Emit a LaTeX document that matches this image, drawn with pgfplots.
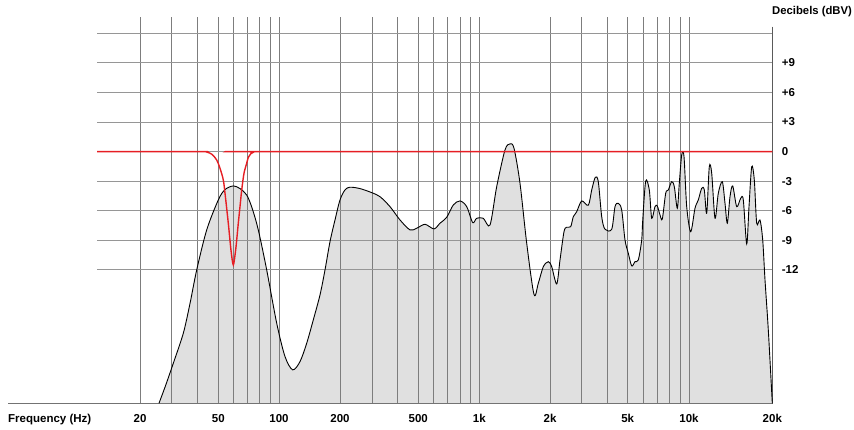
\documentclass[border=0pt]{standalone}
\usepackage{fontspec}
\setmainfont{Liberation Sans}
\usepackage{pgfplots}
\pgfplotsset{compat=1.18}
\usepackage{pgfplotstable}
\definecolor{vgrid}{RGB}{125,125,125}
\definecolor{hgrid}{RGB}{150,150,150}
\definecolor{fillgray}{RGB}{224,224,224}
\definecolor{redline}{RGB}{230,30,36}
\definecolor{axisdark}{RGB}{90,90,90}
\definecolor{axisgray}{RGB}{115,115,115}

% x = position along the (hand-drawn, log-like) frequency axis, y = level in dBV
\pgfplotstableread{
x y
159 -25.52
166 -23.6
173.3 -21.46
183.3 -18.42
190 -15.4
196.7 -12.0
206.7 -7.94
218.3 -4.90
225 -3.85
233.3 -3.48
240 -3.75
246.7 -4.40
252 -5.7
258.3 -7.94
266.7 -12.0
276.7 -17.40
285 -20.78
292.7 -22.13
300 -21.29
306.7 -19.43
313.3 -17.06
320 -14.53
325 -12.0
330 -9.13
335 -6.93
340 -4.90
345 -3.88
350 -3.61
360 -3.75
371.7 -4.16
380 -4.57
390 -5.58
400 -6.93
410 -7.94
416.7 -7.77
425 -7.37
434 -7.84
440 -7.26
446.7 -6.66
453.3 -5.41
460 -5.00
466.7 -5.58
472.7 -7.20
476.7 -6.76
483.3 -6.76
490 -7.44
496.7 -3.55
505 0.17
510 0.78
514 0.34
520 -3.21
526.7 -9.29
534 -14.48
538.3 -13.35
543.3 -11.67
548.3 -11.16
551.7 -11.67
556.7 -13.42
560 -10.99
564 -8.12
566.7 -7.67
570.7 -7.61
573.3 -6.60
576.7 -6.09
581.7 -5.00
588.3 -5.44
591.7 -3.89
595.3 -2.60
598.3 -3.05
601.7 -6.60
605 -7.87
611.7 -7.87
615 -5.58
618.3 -5.24
621.7 -5.92
625 -8.96
628.3 -10.31
631.7 -11.59
635 -11.16
638.3 -10.99
641.7 -8.96
642.7 -7.0
645.7 -2.98
649.3 -3.89
651.7 -6.76
655 -5.58
657.3 -5.51
660 -6.42
662.3 -6.83
665.7 -4.22
668.3 -3.89
671.7 -3.05
674.3 -3.55
677.3 -5.74
679.3 -3.21
681.7 -0.34
684 -0.51
686.7 -5.58
690.7 -8.12
695 -5.74
698.3 -4.90
701.7 -3.72
704.3 -3.89
706.7 -6.25
709.3 -1.53
711.7 -2.20
715 -6.76
718.3 -4.22
722.3 -3.05
725 -5.24
727.3 -7.26
730 -4.57
732.7 -3.48
736.7 -5.58
740.7 -4.73
743.3 -4.90
746.7 -9.36
749 -5.58
751.7 -1.53
754.3 -2.87
756.7 -7.26
760 -6.93
762.7 -8.96
765 -13.01
768.3 -18.08
772.3 -25.52
}\maincurve

\pgfplotstableread{
x y
97 0
200 0
207 -0.05
212 -0.28
216.7 -0.85
220 -1.69
223.3 -2.87
225 -4.22
228.3 -7.26
231 -10.0
233.3 -11.49
235.5 -10.1
236.7 -8.96
238.3 -7.26
240 -5.58
241.7 -3.9
244 -2.20
246.7 -1.18
248.3 -0.6
251 -0.2
254 -0.03
258 0
772.3 0
}\filtercurve

\begin{document}
\begin{tikzpicture}
\begin{axis}[
  at={(8pt,26.7pt)}, anchor=south west,
  scale only axis, width=765pt, height=386.6pt,
  xmin=8, xmax=773, ymin=-25.52, ymax=13.68,
  set layers,
  axis x line=bottom, axis y line=right,
  axis line style={-},
  x axis line style={draw=axisgray, line width=1.5pt},
  y axis line style={draw=none},
  major tick length=0pt,
  xtick={140,171.7,197.7,218.3,233.3,247.3,259.3,270.3,279,340,372.3,397.7,418.3,433.3,447.3,460,470.7,479.3,550,581.7,607.3,627.7,643.3,657.3,669.3,680,689},
  xticklabels={20,,,50,,,,,100,200,,,500,,,,,1k,2k,,,5k,,,,,10k},
  extra x ticks={772.3},
  extra x tick labels={20k},
  extra x tick style={grid=none},
  xmajorgrids,
  major grid style={draw=vgrid, line width=1pt},
  ytick={-12,-9,-6,-3,0,3,6,9},
  yticklabels={-12,-9,-6,-3,0,+3,+6,+9},
  tick label style={font=\fontsize{11.5}{13}\selectfont\bfseries},
  xticklabel style={anchor=base, inner sep=0pt, yshift=-19pt},
  yticklabel style={anchor=west, inner sep=0pt, xshift=8.7pt},
  xlabel={Frequency (Hz)},
  ylabel={Decibels (dBV)},
  every axis x label/.style={at={(axis description cs:0,0)}, anchor=base west, inner sep=0pt, yshift=-19pt, font=\fontsize{11.5}{13}\selectfont\bfseries},
  every axis y label/.style={at={(axis description cs:1,1)}, anchor=base west, inner sep=0pt, xshift=-1pt, yshift=1.7pt, font=\fontsize{11.3}{13}\selectfont\bfseries},
]
\addplot[on layer=axis background, fill=fillgray, draw=none, smooth] table {\maincurve};
\pgfplotsinvokeforeach{-12,-9,-6,-3,0,3,6,9,12}{
  \addplot[draw=hgrid, line width=1pt] coordinates {(97,#1) (772.3,#1)};
}
\addplot[draw=axisdark, line width=1pt] coordinates {(772.3,12.67) (772.3,-25.52)};
\addplot[black, line width=0.9pt, smooth] table {\maincurve};
\addplot[redline, line width=1.4pt, smooth] table {\filtercurve};
\end{axis}
\path (0,0) rectangle (854pt,430pt);
\end{tikzpicture}
\end{document}
